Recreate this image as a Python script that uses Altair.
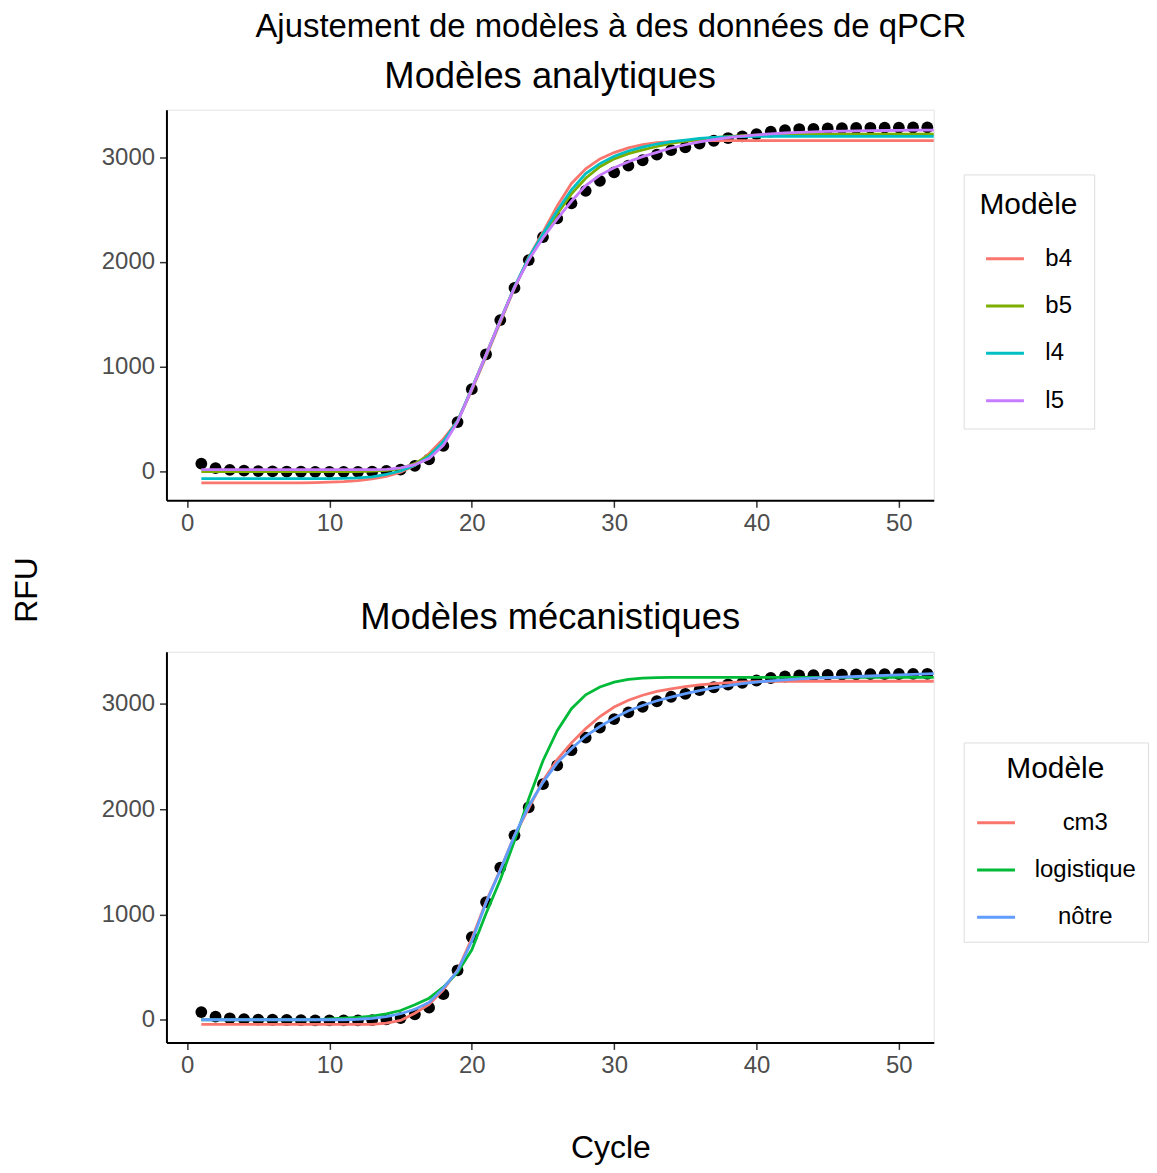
import altair as alt
import pandas as pd

FONT = "Liberation Sans"

# ---------------- data ----------------
cycles_pts = list(range(1, 53))
rfu_pts = [73, 30, 14, 6, 2, 0, -2, -4, -5, -6, -6, -5, -3, 3, 16, 52, 115, 243, 470, 785,
           1118, 1445, 1752, 2018, 2238, 2416, 2560, 2680, 2775, 2856, 2920, 2972, 3025, 3068,
           3095, 3132, 3158, 3184, 3200, 3222, 3246, 3260, 3270, 3272, 3276, 3278, 3280, 3282,
           3283, 3284, 3285, 3286]

cycles_fit = list(range(1, 54))

b4 = [-111, -111, -111, -111, -111, -111, -111, -110, -108, -104, -98, -88, -72, -48, -8, 58,
      170, 310, 480, 775, 1095, 1425, 1750, 2045, 2285, 2535, 2750, 2890, 2985, 3045, 3090,
      3120, 3140, 3150, 3156, 3159, 3160, 3160, 3160, 3160, 3160, 3160, 3160, 3160, 3160, 3160,
      3160, 3160, 3160, 3160, 3160, 3160, 3160]
b5 = [-3, -3, -3, -3, -3, -3, -3, -3, -3, -3, -3, -3, 3, 10, 26, 73, 153, 270, 478, 790, 1115,
      1442, 1760, 2030, 2252, 2459, 2650, 2800, 2910, 2985, 3035, 3070, 3103, 3133, 3155, 3172,
      3187, 3198, 3206, 3212, 3216, 3218, 3220, 3222, 3222, 3222, 3222, 3222, 3222, 3222, 3222,
      3222, 3222]
l4 = [-70, -70, -70, -70, -70, -70, -70, -70, -70, -70, -68, -63, -54, -30, 3, 57, 143, 285,
      480, 790, 1110, 1440, 1762, 2040, 2268, 2490, 2690, 2845, 2940, 3010, 3060, 3098, 3127,
      3150, 3165, 3180, 3190, 3195, 3198, 3200, 3200, 3200, 3200, 3200, 3200, 3200, 3200, 3200,
      3200, 3200, 3200, 3200, 3200]
l5 = [16, 16, 16, 16, 16, 16, 16, 16, 16, 16, 16, 16, 16, 19, 32, 64, 121, 248, 472, 788, 1116,
      1441, 1758, 2020, 2230, 2411, 2580, 2730, 2830, 2900, 2958, 3006, 3047, 3089, 3120, 3148,
      3170, 3188, 3202, 3214, 3224, 3232, 3238, 3243, 3247, 3250, 3252, 3254, 3256, 3258, 3259,
      3260, 3261]

cm3 = [-44, -44, -44, -44, -44, -44, -44, -44, -44, -44, -44, -44, -44, -32, -6, 62, 145, 285,
       470, 770, 1120, 1425, 1750, 2010, 2270, 2470, 2630, 2765, 2880, 2970, 3035, 3082, 3118,
       3143, 3165, 3180, 3193, 3202, 3208, 3212, 3214, 3215, 3215, 3215, 3215, 3215, 3215, 3215,
       3215, 3215, 3215, 3215, 3215]
logistique = [0, 0, 0, 0, 0, 0, 0, 0, 0, 9, 15, 22, 35, 57, 88, 142, 205, 310, 450, 665, 1010,
              1330, 1700, 2099, 2460, 2745, 2955, 3086, 3160, 3207, 3232, 3245, 3250, 3252, 3252,
              3252, 3252, 3252, 3252, 3252, 3252, 3252, 3252, 3252, 3252, 3252, 3252, 3252, 3252,
              3252, 3252, 3252, 3252]
notre = [0, 0, 0, 0, 0, 0, 0, 0, 0, 0, 0, 5, 14, 30, 57, 100, 165, 300, 465, 745, 1110, 1420,
         1750, 2030, 2255, 2440, 2575, 2695, 2785, 2865, 2935, 2985, 3030, 3065, 3098, 3127,
         3152, 3173, 3192, 3207, 3219, 3229, 3237, 3244, 3250, 3255, 3260, 3265, 3270, 3275,
         3280, 3285, 3290]

models_top = ["b4", "b5", "l4", "l5"]
colors_top = ["#F8766D", "#7CAE00", "#00BFC4", "#C77CFF"]
models_bot = ["cm3", "logistique", "nôtre"]
colors_bot = ["#F8766D", "#00BA38", "#619CFF"]

main_title = "Ajustement de modèles à des données de qPCR"
sub_top = "Modèles analytiques"
sub_bot = "Modèles mécanistiques"
x_title = "Cycle"
y_title = "RFU"
legend_title = "Modèle"
x_ticks = [0, 10, 20, 30, 40, 50]
y_ticks = [0, 1000, 2000, 3000]

# ---------------- tables ----------------
pts = pd.DataFrame({"cycle": cycles_pts, "rfu": rfu_pts})


def long_df(models, series):
    rows = []
    for m, s in zip(models, series):
        for c, v in zip(cycles_fit, s):
            rows.append({"cycle": c, "rfu": v, "model": m})
    return pd.DataFrame(rows)


fit_top = long_df(models_top, [b4, b5, l4, l5])
fit_bot = long_df(models_bot, [cm3, logistique, notre])

W, H = 770, 392


def x_enc():
    return alt.X("cycle:Q",
                 scale=alt.Scale(domain=[-1.45, 52.45], nice=False, zero=False),
                 axis=alt.Axis(values=x_ticks, title=None, format="d", grid=False,
                               domainColor="black", domainWidth=2,
                               tickColor="#333333", tickWidth=1.5, tickSize=7,
                               labelFontSize=24, labelColor="#4D4D4D", labelFont=FONT,
                               labelPadding=4))


def y_enc(domain):
    return alt.Y("rfu:Q",
                 scale=alt.Scale(domain=domain, nice=False, zero=False),
                 axis=alt.Axis(values=y_ticks, title=None, format="d", grid=False,
                               domainColor="black", domainWidth=2,
                               tickColor="#333333", tickWidth=1.5, tickSize=7,
                               labelFontSize=24, labelColor="#4D4D4D", labelFont=FONT,
                               labelPadding=5))


def panel(fit, models, colors, ydom, legend_y, center_labels):
    points = alt.Chart(pts).mark_circle(size=140, color="black", opacity=1, clip=True).encode(
        x=x_enc(), y=y_enc(ydom))
    leg = dict(title=legend_title, orient="none", legendX=800, legendY=legend_y,
               symbolType="stroke", symbolSize=1444, symbolStrokeWidth=3,
               titleFontSize=30, titleFontWeight="normal", titleFont=FONT, titleColor="black",
               titleAnchor="middle", titlePadding=18,
               labelFontSize=24, labelFont=FONT, labelColor="black",
               strokeColor="#DDDDDD", fillColor="white", rowPadding=14.5)
    if center_labels:
        leg.update(labelAlign="center", labelOffset=69, padding=12)
    else:
        leg.update(labelAlign="left", labelOffset=20, padding=16)
    lines = alt.Chart(fit).mark_line(strokeWidth=2.8, clip=True).encode(
        x=x_enc(), y=y_enc(ydom),
        color=alt.Color("model:N", scale=alt.Scale(domain=models, range=colors),
                        legend=alt.Legend(**leg)))
    return points, lines


def text_layer(txt, x, y, size, angle=None):
    kw = dict(fontSize=size, font=FONT, color="black", align="center", baseline="middle")
    if angle is not None:
        kw["angle"] = angle
    return alt.Chart(pd.DataFrame({"t": [txt]})).mark_text(**kw).encode(
        x=alt.value(x), y=alt.value(y), text="t:N")


p_top, l_top = panel(fit_top, models_top, colors_top, [-277, 3455], 65, False)
p_bot, l_bot = panel(fit_bot, models_bot, colors_bot, [-215, 3495], 91, True)

top = alt.layer(
    p_top, l_top,
    text_layer(main_title, 446, -83, 33),
    text_layer(sub_top, 385, -33, 36.5),
    text_layer(y_title, -140, 482, 32, angle=270),
).properties(width=W, height=H)

bot = alt.layer(
    p_bot, l_bot,
    text_layer(sub_bot, 385, -34, 36.5),
    text_layer(x_title, 446, 498, 32),
).properties(width=W, height=H)

chart = alt.vconcat(top, bot, spacing=152, bounds="flush").resolve_scale(
    color="independent").properties(
    padding={"left": 2, "top": 0, "right": 0, "bottom": 0}).configure(font=FONT).configure_view(
    stroke="#E3E3E3", strokeWidth=1)

chart.save("out.html", embed_options={"renderer": "svg", "actions": False})
